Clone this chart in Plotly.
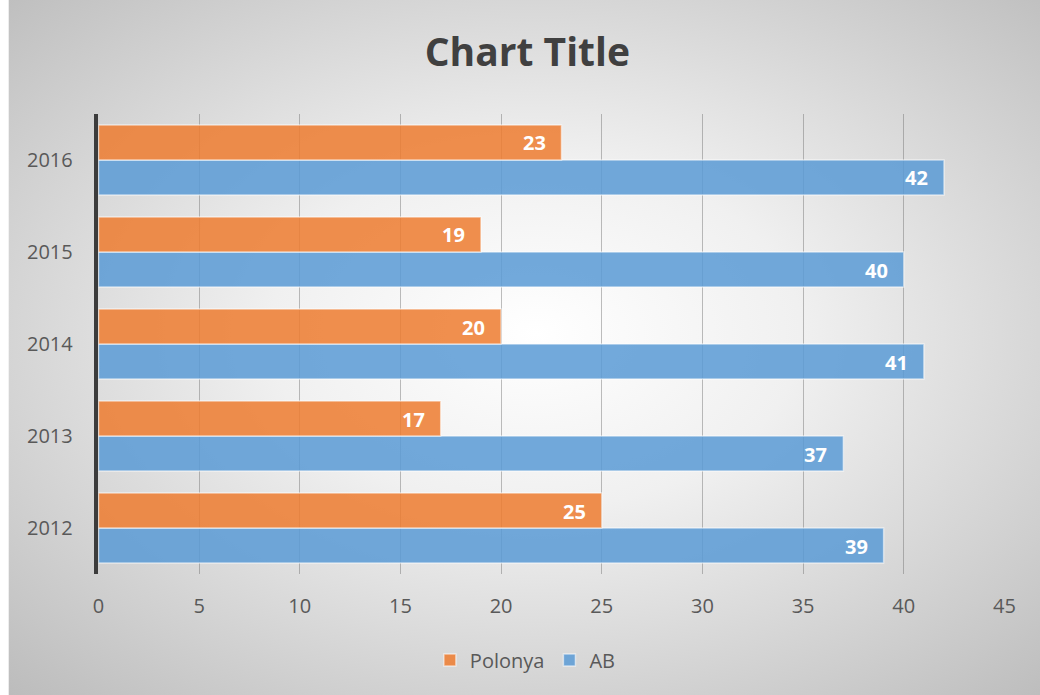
import base64
import plotly.graph_objects as go

# Data
years = [2012, 2013, 2014, 2015, 2016]
polonya = [25, 17, 20, 19, 23]
ab = [39, 37, 41, 40, 42]
x_ticks = [0, 5, 10, 15, 20, 25, 30, 35, 40, 45]

W, H = 1040, 695
FONT = "Open Sans"

# Radial grey background behind the whole chart
svg = (
    '<svg xmlns="http://www.w3.org/2000/svg" width="1000" height="1000" preserveAspectRatio="none">'
    '<defs><radialGradient id="g" cx="50%" cy="48%" r="72%">'
    '<stop offset="0" stop-color="#ffffff"/>'
    '<stop offset="0.35" stop-color="#f0f0f0"/>'
    '<stop offset="1" stop-color="#bcbcbc"/>'
    '</radialGradient></defs>'
    '<rect width="1000" height="1000" fill="url(#g)"/></svg>'
)
bg_src = "data:image/svg+xml;base64," + base64.b64encode(svg.encode()).decode()

fig = go.Figure()

bar_line = dict(color="rgba(255,255,255,0.55)", width=1.5)

fig.add_trace(go.Bar(
    y=years, x=ab, orientation="h", name="AB",
    marker=dict(color="rgba(91,155,213,0.86)", line=bar_line),
    legendrank=2, hoverinfo="x+y+name",
))
fig.add_trace(go.Bar(
    y=years, x=polonya, orientation="h", name="Polonya",
    marker=dict(color="rgba(237,125,49,0.86)", line=bar_line),
    legendrank=1, hoverinfo="x+y+name",
))

# Value labels at the inner end of each bar
annotations = []
for yr, v in zip(years, polonya):
    annotations.append(dict(x=v, y=yr, xref="x", yref="y", text=f"<b>{v}</b>",
                            showarrow=False, xanchor="right", yanchor="middle",
                            xshift=-14, yshift=17,
                            font=dict(family=FONT, size=20, color="white")))
for yr, v in zip(years, ab):
    annotations.append(dict(x=v, y=yr, xref="x", yref="y", text=f"<b>{v}</b>",
                            showarrow=False, xanchor="right", yanchor="middle",
                            xshift=-14, yshift=-18,
                            font=dict(family=FONT, size=20, color="white")))

fig.update_layout(
    width=W, height=H, autosize=False,
    margin=dict(l=0, r=0, t=0, b=0, pad=0),
    paper_bgcolor="white",
    plot_bgcolor="rgba(0,0,0,0)",
    barmode="group",
    bargap=0.24,
    bargroupgap=0.0,
    title=dict(text="<b>Chart Title</b>", x=530 / W, y=1 - 52 / H,
               xanchor="center", yanchor="middle", xref="paper", yref="paper",
               font=dict(family=FONT, size=39, color="#404040")),
    xaxis=dict(domain=[94 / W, 1015 / W], range=[0, 45], tickvals=x_ticks,
               showgrid=True, gridcolor="rgba(110,110,110,0.45)", gridwidth=1,
               zeroline=False, showline=False, ticks="",
               ticklabelstandoff=18,
               tickfont=dict(family=FONT, size=20, color="#595959")),
    yaxis=dict(domain=[(H - 574) / H, (H - 114) / H],
               range=[years[0] - 0.5, years[-1] + 0.5], tickvals=years,
               showgrid=False, zeroline=False,
               showline=True, linecolor="#3c3c3c", linewidth=3.5,
               ticks="", ticklabelstandoff=18,
               tickfont=dict(family=FONT, size=20, color="#595959")),
    legend=dict(orientation="h", x=528 / W, y=1 - 660 / H, xanchor="center",
                yanchor="middle", bgcolor="rgba(0,0,0,0)",
                font=dict(family=FONT, size=20, color="#595959"),
                itemwidth=30),
    annotations=annotations,
    images=[dict(source=bg_src, xref="paper", yref="paper", x=2.5 / W, y=1,
                 sizex=1.03, sizey=1, sizing="stretch",
                 xanchor="left", yanchor="top", layer="below")],
    showlegend=True,
)

# Keep the page flush with the figure: no body margin, no scrollbars
page_css = (
    "document.documentElement.style.margin='0';"
    "document.documentElement.style.overflow='hidden';"
    "document.body.style.margin='0';"
    "document.body.style.overflow='hidden';"
)

fig.write_html("out.html", config={"responsive": False}, post_script=page_css)
